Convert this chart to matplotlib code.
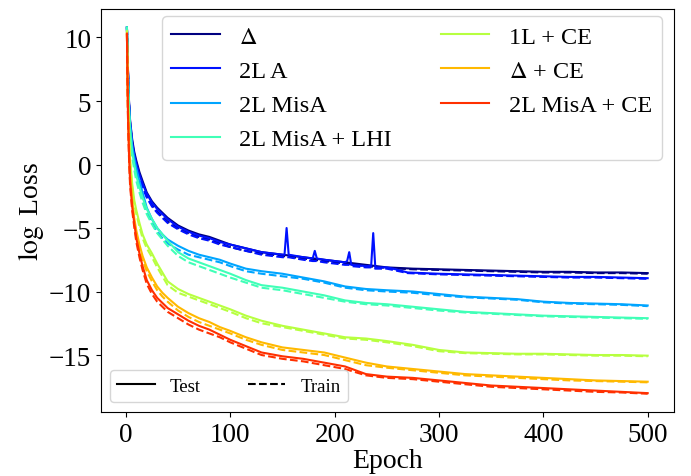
import numpy as np
import matplotlib
matplotlib.use("Agg")
import matplotlib.pyplot as plt
from matplotlib.lines import Line2D

plt.rcParams["font.family"] = ["Liberation Serif", "DejaVu Serif"]
plt.rcParams["mathtext.fontset"] = "stix"

epochs = [1, 2, 3, 4, 6, 8, 10, 13, 16, 20, 25, 30, 35, 40, 50, 60, 70, 80, 90, 100,
          115, 130, 150, 170, 190, 210, 230, 250, 275, 300, 325, 350, 375, 400, 425, 450, 475, 500]

# separate grid for "2L A" (it has a few sharp spikes)
epochs_2la = [1, 2, 3, 4, 6, 8, 10, 13, 16, 20, 25, 30, 35, 40, 50, 60, 70, 80, 90, 100,
              115, 130, 150, 152, 154, 156, 170, 179, 181, 183, 190, 210, 212, 214, 216,
              230, 235, 237, 239, 250, 256, 270, 300, 325, 350, 375, 400, 425, 450, 475, 500]

labels = ["$\\Delta$", "2L A", "2L MisA", "2L MisA + LHI", "1L + CE", "$\\Delta$ + CE", "2L MisA + CE"]

delta_test = [10.8, 7.5, 5.0, 3.5, 2.0, 1.0, 0.3, -0.6, -1.3, -2.2, -2.9, -3.4, -3.8, -4.2, -4.8, -5.2, -5.5, -5.7, -6.0, -6.3,
              -6.6, -6.9, -7.1, -7.3, -7.5, -7.7, -7.9, -8.1, -8.2, -8.25, -8.3, -8.35, -8.4, -8.45, -8.45, -8.5, -8.5, -8.55]
delta_train = [10.8, 7.3, 4.8, 3.2, 1.7, 0.7, 0.0, -0.9, -1.6, -2.5, -3.2, -3.7, -4.1, -4.5, -5.0, -5.4, -5.7, -5.9, -6.2, -6.5,
               -6.8, -7.0, -7.2, -7.4, -7.6, -7.8, -8.0, -8.15, -8.25, -8.3, -8.35, -8.4, -8.45, -8.5, -8.5, -8.55, -8.55, -8.6]

a2l_test = [10.8, 7.4, 4.9, 3.4, 1.8, 0.8, 0.1, -0.8, -1.5, -2.3, -3.0, -3.5, -3.9, -4.3, -4.9, -5.3, -5.6, -5.8, -6.1, -6.3,
            -6.6, -6.9, -7.1, -7.1, -5.0, -7.1, -7.3, -7.4, -6.8, -7.4, -7.5, -7.7, -7.6, -6.9, -7.9, -8.0, -8.0, -5.4, -8.1,
            -8.1, -8.2, -8.5, -8.6, -8.65, -8.7, -8.75, -8.8, -8.85, -8.85, -8.9, -8.95]
a2l_train = [10.8, 7.2, 4.7, 3.1, 1.5, 0.5, -0.2, -1.1, -1.8, -2.6, -3.3, -3.8, -4.2, -4.6, -5.1, -5.5, -5.8, -6.0, -6.3, -6.5,
             -6.8, -7.1, -7.3, -7.3, -7.3, -7.3, -7.5, -7.6, -7.6, -7.6, -7.7, -7.9, -7.9, -7.9, -8.0, -8.1, -8.1, -8.1, -8.2,
             -8.2, -8.3, -8.55, -8.65, -8.7, -8.75, -8.8, -8.85, -8.9, -8.9, -8.95, -9.0]

misa_test = [10.8, 7.2, 4.7, 3.2, 1.5, 0.5, -0.3, -1.3, -2.2, -3.4, -4.3, -5.0, -5.5, -5.9, -6.4, -6.8, -7.1, -7.3, -7.5, -7.8,
             -8.2, -8.4, -8.6, -8.9, -9.2, -9.6, -9.8, -9.9, -10.0, -10.2, -10.4, -10.5, -10.6, -10.8, -10.9, -10.95, -11.0, -11.1]
misa_train = [10.8, 7.0, 4.4, 2.9, 1.2, 0.2, -0.6, -1.6, -2.5, -3.7, -4.6, -5.3, -5.8, -6.2, -6.7, -7.1, -7.3, -7.5, -7.7, -8.0,
              -8.4, -8.6, -8.8, -9.0, -9.3, -9.7, -9.9, -10.0, -10.1, -10.3, -10.45, -10.55, -10.65, -10.85, -10.95, -11.0, -11.05, -11.15]

lhi_test = [10.8, 7.0, 4.4, 2.8, 1.0, 0.0, -0.9, -1.8, -2.6, -3.5, -4.3, -5.0, -5.5, -6.0, -6.9, -7.4, -7.7, -8.0, -8.3, -8.6,
            -9.1, -9.5, -9.7, -10.0, -10.3, -10.7, -10.9, -11.0, -11.2, -11.4, -11.6, -11.7, -11.8, -11.9, -11.95, -12.0, -12.05, -12.1]
lhi_train = [10.8, 6.7, 4.0, 2.4, 0.6, -0.4, -1.3, -2.2, -3.0, -3.9, -4.7, -5.4, -5.9, -6.4, -7.2, -7.7, -8.0, -8.3, -8.6, -8.9,
             -9.3, -9.7, -9.9, -10.2, -10.5, -10.8, -11.0, -11.1, -11.3, -11.5, -11.65, -11.75, -11.85, -11.95, -12.0, -12.05, -12.1, -12.15]

ce1_test = [10.5, 5.5, 2.5, 0.5, -1.5, -2.8, -3.6, -4.6, -5.5, -6.3, -7.0, -7.8, -8.5, -9.2, -9.8, -10.2, -10.5, -10.8, -11.1, -11.4,
            -11.9, -12.3, -12.7, -13.0, -13.3, -13.6, -13.7, -13.9, -14.2, -14.6, -14.8, -14.85, -14.9, -14.9, -14.95, -15.0, -15.0, -15.05]
ce1_train = [10.5, 5.2, 2.2, 0.2, -1.8, -3.1, -3.9, -4.9, -5.8, -6.6, -7.3, -8.1, -8.8, -9.5, -10.1, -10.4, -10.7, -11.0, -11.3, -11.6,
             -12.1, -12.5, -12.8, -13.1, -13.4, -13.7, -13.8, -14.0, -14.3, -14.7, -14.85, -14.9, -14.95, -14.95, -15.0, -15.05, -15.05, -15.1]

dce_test = [10.3, 4.5, 1.5, -0.5, -2.8, -4.2, -5.2, -6.3, -7.2, -8.1, -8.9, -9.6, -10.1, -10.5, -11.2, -11.7, -12.1, -12.4, -12.8, -13.1,
            -13.6, -14.0, -14.4, -14.6, -14.8, -15.2, -15.6, -15.9, -16.1, -16.3, -16.5, -16.6, -16.7, -16.8, -16.9, -17.0, -17.05, -17.1]
dce_train = [10.3, 4.2, 1.2, -0.8, -3.1, -4.5, -5.5, -6.6, -7.5, -8.4, -9.2, -9.9, -10.4, -10.8, -11.5, -12.0, -12.4, -12.7, -13.0, -13.3,
             -13.8, -14.2, -14.6, -14.8, -15.0, -15.4, -15.8, -16.0, -16.2, -16.4, -16.6, -16.7, -16.8, -16.9, -17.0, -17.05, -17.1, -17.15]

mce_test = [10.3, 4.0, 0.8, -1.3, -3.3, -4.6, -5.8, -7.0, -8.0, -9.1, -9.9, -10.5, -10.9, -11.3, -11.8, -12.3, -12.7, -13.0, -13.4, -13.8,
            -14.3, -14.8, -15.1, -15.3, -15.6, -15.9, -16.5, -16.7, -16.8, -17.0, -17.2, -17.4, -17.5, -17.6, -17.7, -17.8, -17.9, -18.0]
mce_train = [10.3, 3.7, 0.5, -1.6, -3.6, -4.9, -6.1, -7.3, -8.3, -9.4, -10.2, -10.8, -11.2, -11.6, -12.1, -12.6, -13.0, -13.3, -13.6, -14.0,
             -14.5, -15.0, -15.3, -15.5, -15.8, -16.1, -16.6, -16.8, -16.9, -17.1, -17.3, -17.5, -17.6, -17.7, -17.8, -17.9, -17.95, -18.05]

series = [
    (epochs, delta_test, delta_train),
    (epochs_2la, a2l_test, a2l_train),
    (epochs, misa_test, misa_train),
    (epochs, lhi_test, lhi_train),
    (epochs, ce1_test, ce1_train),
    (epochs, dce_test, dce_train),
    (epochs, mce_test, mce_train),
]

fig = plt.figure(figsize=(6.91, 4.77), dpi=100)
ax = fig.add_axes([0.146, 0.134, 0.829, 0.845])
cmap = plt.get_cmap("jet")

for i, ((ep, te, tr), lab) in enumerate(zip(series, labels)):
    c = cmap(i / 7)
    ax.plot(ep, te, color=c, lw=1.5, label=lab)
    ax.plot(ep, tr, color=c, lw=1.5, ls="--")

ax.set_xlabel("Epoch", fontsize=20, labelpad=1)
ax.set_ylabel("$\\log$ Loss", fontsize=20, labelpad=2)
ax.tick_params(labelsize=19.5)
ax.set_xticks([0, 100, 200, 300, 400, 500])
ax.set_yticks([-15, -10, -5, 0, 5, 10])

leg1 = ax.legend(loc="upper right", bbox_to_anchor=(0.979, 0.9826), borderaxespad=0,
                 ncol=2, fontsize=17.5, handlelength=2.0, columnspacing=2.0)
ax.add_artist(leg1)
style_handles = [Line2D([], [], color="k", lw=1.5), Line2D([], [], color="k", lw=1.5, ls="--")]
ax.legend(style_handles, ["Test", "Train"], loc="lower left", bbox_to_anchor=(0.0157, 0.0248),
          borderaxespad=0, ncol=2, fontsize=13.5, handlelength=2.0, columnspacing=2.5)

fig.savefig("out.png", dpi=100)
